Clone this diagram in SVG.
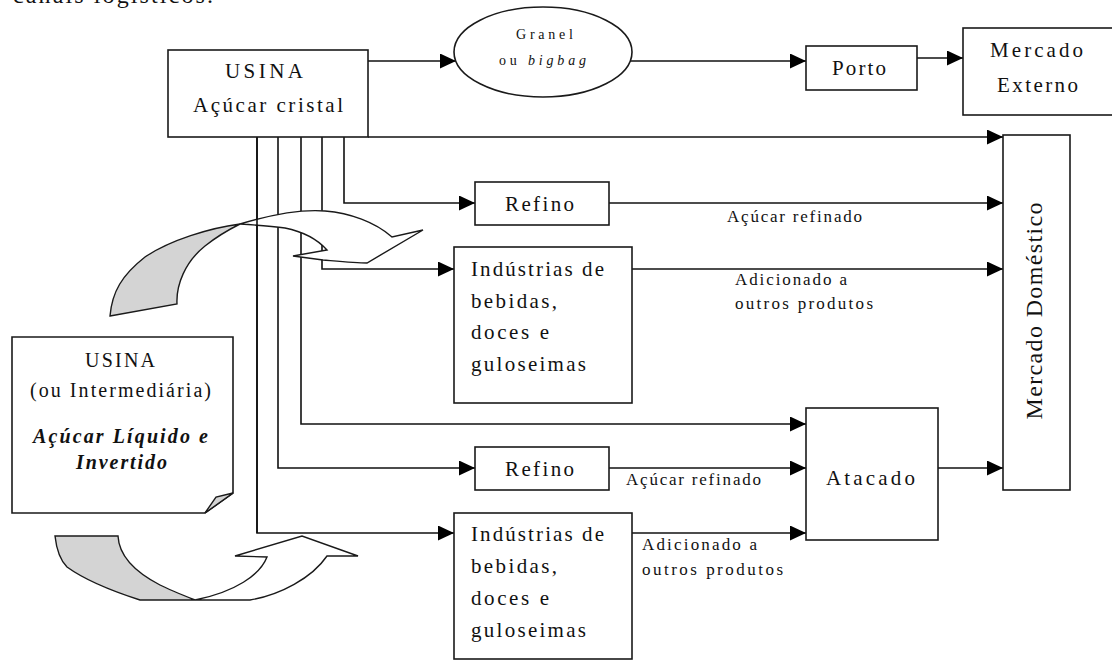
<svg xmlns="http://www.w3.org/2000/svg" width="1112" height="662" viewBox="0 0 1112 662">
<defs>
<style>
.box{fill:#fff;stroke:#1a1a1a;stroke-width:1.6}
.ln{fill:none;stroke:#111;stroke-width:1.6}
.t{font-family:"Liberation Serif","Times New Roman",serif;fill:#111;font-size:21px}
.s{font-family:"Liberation Serif","Times New Roman",serif;fill:#111;font-size:17px}
.bi{font-family:"Liberation Serif","Times New Roman",serif;fill:#111;font-size:20px;font-weight:bold;font-style:italic}
.grey{fill:#d4d4d4;stroke:#1a1a1a;stroke-width:1.4}
.wh{fill:#fff;stroke:#1a1a1a;stroke-width:1.4}
</style>
<marker id="ah" markerUnits="userSpaceOnUse" markerWidth="17" markerHeight="16" refX="16" refY="7.5" orient="auto">
<path d="M0,0 L16,7.5 L0,15 Z" fill="#000"/>
</marker>
</defs>
<rect width="1112" height="662" fill="#fff"/>
<text class="t" x="13" y="3" style="font-size:24px" textLength="200" lengthAdjust="spacing">canais logísticos.</text>

<g id="connectors">
<path class="ln" d="M368,61 H456" marker-end="url(#ah)"/>
<path class="ln" d="M630,61 H806" marker-end="url(#ah)"/>
<path class="ln" d="M917,58 H963" marker-end="url(#ah)"/>
<path class="ln" d="M368,137 H1003" marker-end="url(#ah)"/>
<path class="ln" d="M344,137 V203 H475" marker-end="url(#ah)"/>
<path class="ln" d="M609,203 H1003" marker-end="url(#ah)"/>
<path class="ln" d="M322,137 V269 H454" marker-end="url(#ah)"/>
<path class="ln" d="M632,269 H1003" marker-end="url(#ah)"/>
<path class="ln" d="M301,137 V424 H806" marker-end="url(#ah)"/>
<path class="ln" d="M278,137 V468 H475" marker-end="url(#ah)"/>
<path class="ln" d="M609,468 H806" marker-end="url(#ah)"/>
<path class="ln" d="M257,137 V533 H454" marker-end="url(#ah)"/>
<path class="ln" d="M632,533 H806" marker-end="url(#ah)"/>
<path class="ln" d="M938,468 H1003" marker-end="url(#ah)"/>
</g>

<g id="curved-arrow-top">
<path class="grey" d="M110,316 L177,304 C176,285 185,262 205,246 C220,234 232,228 240,224 C210,228 170,240 145,257 C122,275 112,292 110,316 Z"/>
<path class="wh" d="M240,224 C270,215 300,209 325,211 C350,213 375,222 392,237 L423,230 L367,263 C355,263 335,261 323,260 L293,256 L327,250 C318,240 305,232 285,228 C270,226 255,225 240,224 Z"/>
<path class="ln" d="M257,137 V533"/>
</g>

<g id="curved-arrow-bottom">
<path class="grey" d="M55,536 L118,536 C119,555 135,572 160,585 C170,590 185,596 195,600 L140,600 C115,592 85,580 67,567 C58,558 56,545 55,536 Z"/>
<path class="wh" d="M195,600 L250,600 C280,595 312,578 327,556 L358,556 L302,536 L235,556 L267,557 C260,575 235,592 195,600 Z"/>
</g>

<g id="usina">
<rect class="box" x="168" y="50" width="200" height="87"/>
<text class="t" x="225" y="78" textLength="78" lengthAdjust="spacing">USINA</text>
<text class="t" x="193" y="112" textLength="150" lengthAdjust="spacing">Açúcar cristal</text>
</g>

<g id="granel">
<ellipse class="box" cx="543" cy="52" rx="89" ry="45"/>
<text class="s" x="516" y="39" style="font-size:14px" textLength="57" lengthAdjust="spacing">Granel</text>
<text class="s" x="499" y="65" style="font-size:14px" textLength="87" lengthAdjust="spacing">ou <tspan font-style="italic">bigbag</tspan></text>
</g>

<g id="porto">
<rect class="box" x="806" y="46" width="111" height="44"/>
<text class="t" x="832" y="75" textLength="54" lengthAdjust="spacing">Porto</text>
</g>

<g id="mercado-externo">
<rect class="box" x="963" y="28" width="160" height="87"/>
<text class="t" x="990" y="57" textLength="93" lengthAdjust="spacing">Mercado</text>
<text class="t" x="997" y="92" textLength="81" lengthAdjust="spacing">Externo</text>
</g>

<g id="mercado-domestico">
<rect class="box" x="1003" y="135" width="67" height="355"/>
<text class="t" style="font-size:24px" text-anchor="middle" transform="translate(1042,311) rotate(-90)" textLength="217" lengthAdjust="spacing">Mercado Doméstico</text>
</g>

<g id="refino-1">
<rect class="box" x="475" y="182" width="134" height="43"/>
<text class="t" x="505" y="211" textLength="69" lengthAdjust="spacing">Refino</text>
</g>
<text class="s" x="727" y="222" textLength="135" lengthAdjust="spacing">Açúcar refinado</text>

<g id="industrias-1">
<rect class="box" x="454" y="247" width="178" height="156"/>
<text class="t" x="471" y="276" textLength="133" lengthAdjust="spacing">Indústrias de</text>
<text class="t" x="471" y="308" textLength="86" lengthAdjust="spacing">bebidas,</text>
<text class="t" x="471" y="339" textLength="78" lengthAdjust="spacing">doces e</text>
<text class="t" x="471" y="371" textLength="115" lengthAdjust="spacing">guloseimas</text>
</g>
<text class="s" x="735" y="285" textLength="112" lengthAdjust="spacing">Adicionado a</text>
<text class="s" x="735" y="309" textLength="138" lengthAdjust="spacing">outros produtos</text>

<g id="refino-2">
<rect class="box" x="475" y="447" width="134" height="43"/>
<text class="t" x="505" y="476" textLength="69" lengthAdjust="spacing">Refino</text>
</g>
<text class="s" x="626" y="485" textLength="135" lengthAdjust="spacing">Açúcar refinado</text>

<g id="atacado">
<rect class="box" x="806" y="408" width="132" height="132"/>
<text class="t" x="826" y="485" textLength="89" lengthAdjust="spacing">Atacado</text>
</g>

<g id="industrias-2">
<rect class="box" x="454" y="513" width="178" height="146"/>
<text class="t" x="471" y="541" textLength="133" lengthAdjust="spacing">Indústrias de</text>
<text class="t" x="471" y="573" textLength="86" lengthAdjust="spacing">bebidas,</text>
<text class="t" x="471" y="605" textLength="78" lengthAdjust="spacing">doces e</text>
<text class="t" x="471" y="637" textLength="115" lengthAdjust="spacing">guloseimas</text>
</g>
<text class="s" x="642" y="550" textLength="115" lengthAdjust="spacing">Adicionado a</text>
<text class="s" x="642" y="575" textLength="141" lengthAdjust="spacing">outros produtos</text>

<g id="usina-liquido">
<path class="box" d="M12,337 H233 V493 L205,513 H12 Z"/>
<path class="grey" d="M205,513 L216,497 L233,493 Z"/>
<text class="t" style="font-size:20px" x="85" y="367" textLength="70" lengthAdjust="spacing">USINA</text>
<text class="t" style="font-size:20px" x="30" y="397" textLength="181" lengthAdjust="spacing">(ou Intermediária)</text>
<text class="bi" x="33" y="443" textLength="175" lengthAdjust="spacing">Açúcar Líquido e</text>
<text class="bi" x="76" y="469" textLength="91" lengthAdjust="spacing">Invertido</text>
</g>
</svg>
